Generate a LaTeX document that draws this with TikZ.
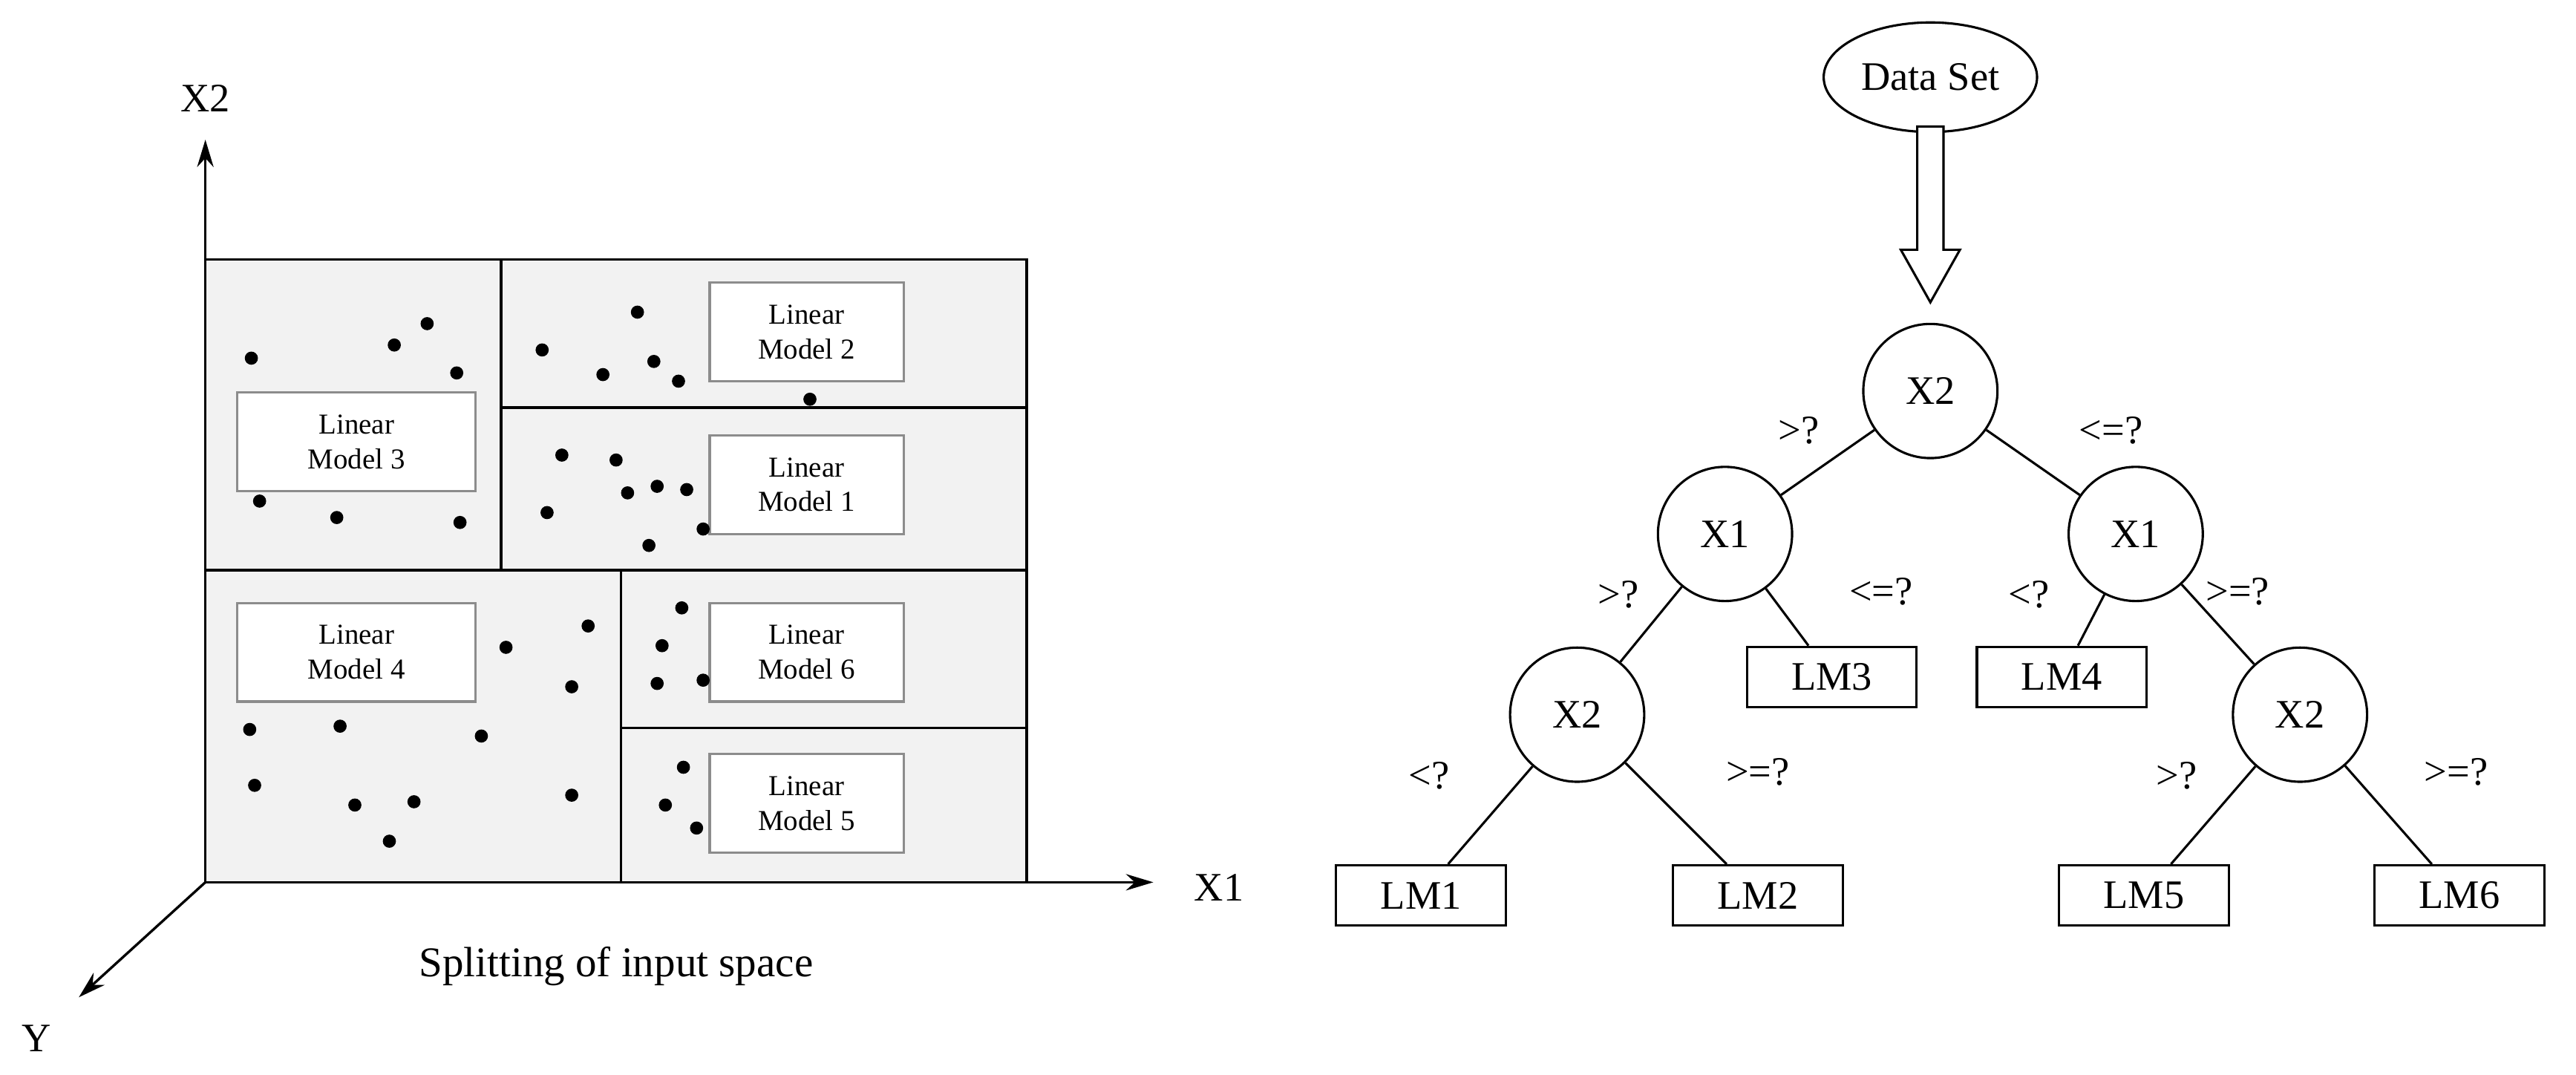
\documentclass[tikz,border=0pt]{standalone}
\usepackage{fontspec}
\setmainfont{Liberation Serif}
\usetikzlibrary{arrows.meta,shapes.geometric}
\begin{document}
\begin{tikzpicture}[x=0.03cm,y=-0.03cm,
  lm/.style={draw=black!45,line width=1.2pt,fill=white,minimum width=3.54cm,minimum height=1.8cm,align=center,font=\fontsize{15}{18}\selectfont},
  dot/.style={fill=black,circle,inner sep=0pt,minimum size=0.24cm},
  ax/.style={line width=1.3pt,-{Stealth[length=0.5cm,width=0.3cm]}},
  cir/.style={draw,circle,line width=1.2pt,minimum size=2.45cm,inner sep=0pt,font=\fontsize{21}{25}\selectfont},
  leaf/.style={draw,line width=1.2pt,minimum width=3.1cm,minimum height=1.1cm,inner sep=0pt,font=\fontsize{21}{25}\selectfont},
  lab/.style={font=\fontsize{21}{25}\selectfont},
  edge/.style={line width=1.2pt}]
\useasboundingbox (0,0) rectangle (1568,654);
% left panel
\fill[black!5] (125,158) rectangle (625,537);
\draw[line width=1.4pt] (125,158) rectangle (625,537);
\draw[line width=1.4pt] (305,158) -- (305,347) (125,347) -- (625,347) (305,248) -- (625,248)
  (378,347) -- (378,537) (378,443) -- (625,443);
\node[lm] (m2) at (491,202) {Linear\\Model 2};
\node[lm,minimum width=4.35cm] (m3) at (217,269) {Linear\\Model 3};
\node[lm] (m1) at (491,295) {Linear\\Model 1};
\node[lm,minimum width=4.35cm] (m4) at (217,397) {Linear\\Model 4};
\node[lm] (m6) at (491,397) {Linear\\Model 6};
\node[lm] (m5) at (491,489) {Linear\\Model 5};
\foreach \p in {(153,218),(240,210),(260,197),(278,227),(158,305),(205,315),(280,318),
 (330,213),(388,190),(367,228),(398,220),(413,232),(493,243),
 (342,277),(375,280),(400,296),(382,300),(418,298),(333,312),(395,332),(428,322),
 (358,381),(308,394),(348,418),(152,444),(207,442),(293,448),(155,478),(216,490),(252,488),(237,512),(348,484),
 (415,370),(403,393),(400,416),(428,414),(416,467),(405,490),(424,504)}
 \node[dot] at \p {};
\coordinate (o) at (125,537);
\coordinate (xe) at (702,537);
\coordinate (ye) at (125,85);
\coordinate (ze) at (48,607);
\draw[ax] (o) -- (xe);
\draw[ax] (o) -- (ye);
\draw[ax] (o) -- (ze);
\node[lab] (lx2) at (125,60) {X2};
\node[lab] (lx1) at (742,540) {X1};
\node[lab] (ly) at (22,632) {Y};
\node[font=\fontsize{22}{26}\selectfont] (cap) at (375,588) {Splitting of input space};
% tree
\node[draw,ellipse,line width=1.2pt,minimum width=3.7cm,minimum height=2cm,lab] (ds) at (1175,47) {Data Set};
\draw[line width=1.2pt,fill=white] (1167,77) -- (1183,77) -- (1183,152) -- (1193,152) -- (1175,184) -- (1157,152) -- (1167,152) -- cycle;
\node[cir] (r) at (1175,238) {X2};
\node[cir] (a) at (1050,325) {X1};
\node[cir] (b) at (1300,325) {X1};
\node[cir] (c) at (960,435) {X2};
\node[cir] (d) at (1400,435) {X2};
\node[leaf] (l3) at (1115,412) {LM3};
\node[leaf] (l4) at (1255,412) {LM4};
\node[leaf] (l1) at (865,545) {LM1};
\node[leaf] (l2) at (1070,545) {LM2};
\node[leaf] (l5) at (1305,545) {LM5};
\node[leaf] (l6) at (1497,545) {LM6};
\draw[edge] (r) -- (a); \draw[edge] (r) -- (b);
\draw[edge] (a) -- (c); \draw[edge] (a) -- (l3);
\draw[edge] (b) -- (l4); \draw[edge] (b) -- (d);
\draw[edge] (c) -- (l1); \draw[edge] (c) -- (l2);
\draw[edge] (d) -- (l5); \draw[edge] (d) -- (l6);
\node[lab] at (1095,262) {>?};
\node[lab] at (1285,262) {<=?};
\node[lab] at (985,362) {>?};
\node[lab] at (1145,360) {<=?};
\node[lab] at (1235,362) {<?};
\node[lab] at (1362,360) {>=?};
\node[lab] at (870,472) {<?};
\node[lab] at (1070,470) {>=?};
\node[lab] at (1325,472) {>?};
\node[lab] at (1495,470) {>=?};
\end{tikzpicture}
\end{document}
